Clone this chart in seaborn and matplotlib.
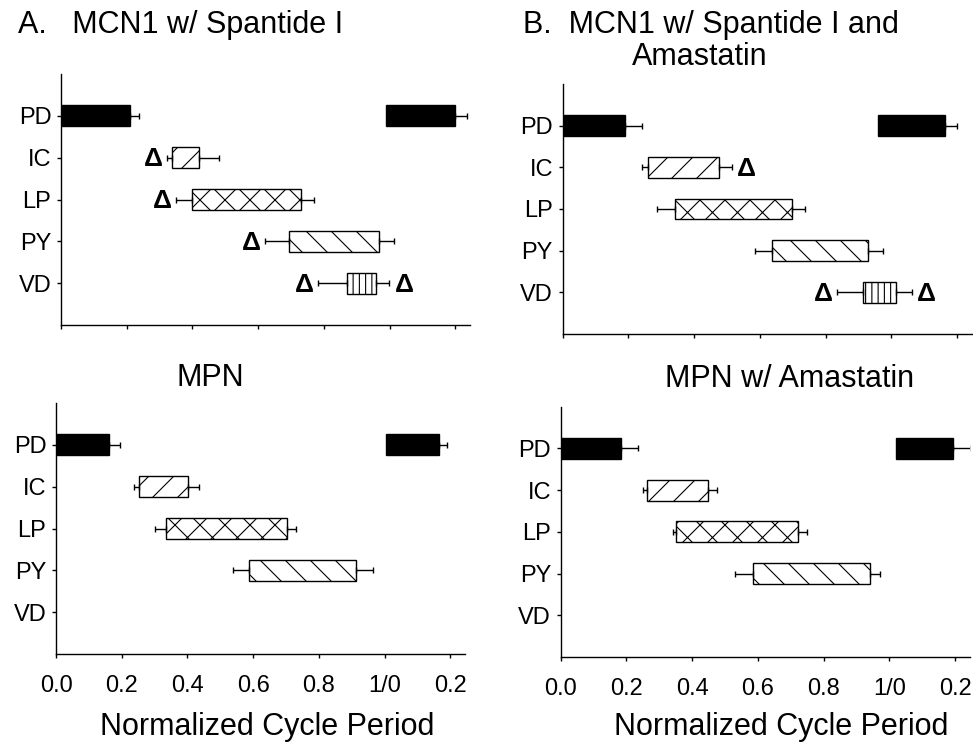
import numpy as np
import matplotlib
matplotlib.use("Agg")
import matplotlib.pyplot as plt
import seaborn as sns

# neurons, top to bottom
neurons = ["PD", "IC", "LP", "PY", "VD"]
hatches = {"IC": "/", "LP": "x", "PY": "\\", "VD": "||"}

# panel A: MCN1 w/ Spantide I
a_on = [0.0, 0.337, 0.400, 0.693, 0.870]
a_off = [0.210, 0.421, 0.730, 0.969, 0.959]
a_on_err = [0.0, 0.013, 0.050, 0.072, 0.089]
a_off_err = [0.027, 0.061, 0.041, 0.046, 0.040]
a_pd2 = [0.990, 1.200, 0.035]   # next-cycle PD onset, offset, offset err
a_delta_left = ["IC", "LP", "PY", "VD"]
a_delta_right = ["VD"]

# panel B: MCN1 w/ Spantide I and Amastatin
b_on = [0.0, 0.259, 0.342, 0.638, 0.915]
b_off = [0.189, 0.475, 0.698, 0.928, 1.016]
b_on_err = [0.0, 0.018, 0.054, 0.052, 0.080]
b_off_err = [0.053, 0.039, 0.040, 0.046, 0.046]
b_pd2 = [0.961, 1.163, 0.037]
b_delta_left = ["VD"]
b_delta_right = ["IC", "VD"]

# panel C: MPN
c_on = [0.0, 0.252, 0.336, 0.586]
c_off = [0.160, 0.402, 0.704, 0.912]
c_on_err = [0.0, 0.016, 0.036, 0.047]
c_off_err = [0.035, 0.032, 0.025, 0.052]
c_pd2 = [1.005, 1.166, 0.025]

# panel D: MPN w/ Amastatin
d_on = [0.0, 0.264, 0.351, 0.585]
d_off = [0.184, 0.447, 0.721, 0.940]
d_on_err = [0.0, 0.014, 0.009, 0.054]
d_off_err = [0.051, 0.029, 0.030, 0.033]
d_pd2 = [1.019, 1.195, 0.053]

xticks = [0.0, 0.2, 0.4, 0.6, 0.8, 1.0, 1.2]
xticklabels = ["0.0", "0.2", "0.4", "0.6", "0.8", "1/0", "0.2"]

# lower dpi makes the hatching denser; K rescales point sizes to keep pixel sizes
DPI = 75
K = 100 / DPI

sns.set_style("ticks", {"text.color": "black", "axes.labelcolor": "black",
                        "xtick.color": "black", "ytick.color": "black",
                        "axes.edgecolor": "black"})
plt.rcParams["font.family"] = ["Liberation Sans", "DejaVu Sans"]
plt.rcParams["hatch.linewidth"] = 0.8 * K

fig = plt.figure(figsize=(973 / DPI, 746 / DPI), dpi=DPI)
eb = dict(fmt="none", ecolor="black", elinewidth=1 * K, capsize=2.5 * K, capthick=1 * K)


def draw_panel(rect, on, off, on_err, off_err, pd2, d_left=(), d_right=(), labels=False):
    ax = fig.add_axes(rect)
    for i, (s, e, le, re) in enumerate(zip(on, off, on_err, off_err)):
        name = neurons[i]
        if name == "PD":
            ax.barh(i, e - s, left=s, height=0.5, color="black", edgecolor="black", lw=1 * K)
        else:
            ax.barh(i, e - s, left=s, height=0.5, color="white", edgecolor="black",
                    lw=1 * K, hatch=hatches[name])
        if le > 0:
            ax.errorbar(s, i, xerr=[[le], [0]], **eb)
        ax.errorbar(e, i, xerr=[[0], [re]], **eb)
        if name in d_left:
            ax.annotate("Δ", (s - le, i), xytext=(-3 * K, -1 * K), textcoords="offset points",
                        ha="right", va="center", fontsize=19 * K, fontweight="bold")
        if name in d_right:
            ax.annotate("Δ", (e + re, i), xytext=(4 * K, -1 * K), textcoords="offset points",
                        ha="left", va="center", fontsize=19 * K, fontweight="bold")
    # next-cycle PD burst
    ax.barh(0, pd2[1] - pd2[0], left=pd2[0], height=0.5, color="black", edgecolor="black", lw=1 * K)
    ax.errorbar(pd2[1], 0, xerr=[[0], [pd2[2]]], **eb)

    ax.set_xlim(0, 1.245)
    ax.set_ylim(5.0, -1.0)
    ax.set_yticks(range(len(neurons)))
    ax.set_yticklabels(neurons)
    ax.set_xticks(xticks)
    if labels:
        ax.set_xticklabels(xticklabels)
    else:
        ax.set_xticklabels([])
    ax.tick_params(axis="y", length=3 * K, width=1 * K, pad=4 * K, labelsize=17 * K)
    ax.tick_params(axis="x", length=3 * K, width=1 * K, pad=12 * K, labelsize=17 * K)
    sns.despine(ax=ax)
    for sp in ax.spines.values():
        sp.set_linewidth(1 * K)
    return ax


draw_panel([0.0627, 0.5643, 0.4204, 0.3365], a_on, a_off, a_on_err, a_off_err, a_pd2,
           a_delta_left, a_delta_right)
draw_panel([0.5783, 0.5523, 0.4204, 0.3351], b_on, b_off, b_on_err, b_off_err, b_pd2,
           b_delta_left, b_delta_right)
draw_panel([0.0576, 0.1233, 0.4204, 0.3365], c_on, c_off, c_on_err, c_off_err, c_pd2,
           labels=True)
draw_panel([0.5763, 0.1193, 0.4204, 0.3355], d_on, d_off, d_on_err, d_off_err, d_pd2,
           labels=True)

fs = 22 * K
fig.text(0.0185, 0.9558, "A.   MCN1 w/ Spantide I", fontsize=fs, ha="left", va="baseline")
fig.text(0.5375, 0.9558, "B.  MCN1 w/ Spantide I and", fontsize=fs, ha="left", va="baseline")
fig.text(0.7194, 0.9129, "Amastatin", fontsize=fs, ha="center", va="baseline")
fig.text(0.2158, 0.4826, "MPN", fontsize=fs, ha="center", va="baseline")
fig.text(0.8119, 0.4812, "MPN w/ Amastatin", fontsize=fs, ha="center", va="baseline")
fig.text(0.2749, 0.0147, "Normalized Cycle Period", fontsize=fs, ha="center", va="baseline")
fig.text(0.8032, 0.0147, "Normalized Cycle Period", fontsize=fs, ha="center", va="baseline")

fig.savefig("out.png", dpi=DPI)
